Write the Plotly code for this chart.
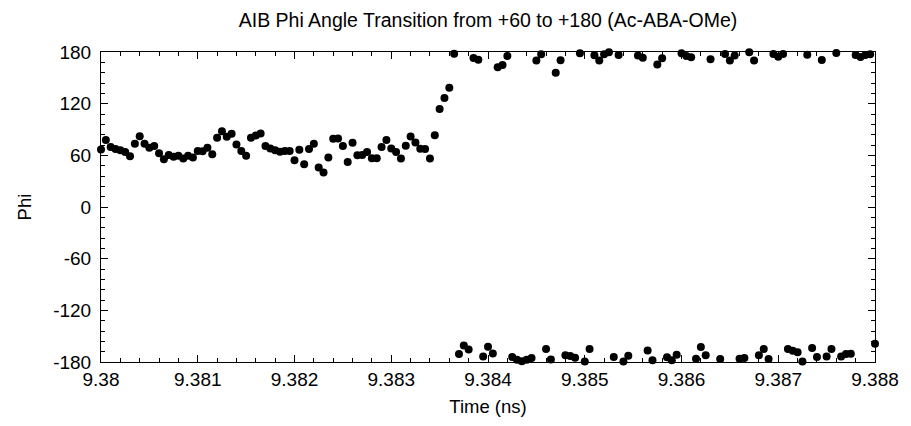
import plotly.graph_objects as go

# Time (ns) of each sample
time_ns = [
    9.38000, 9.38005, 9.38010, 9.38015, 9.38020, 9.38025, 9.38030, 9.38035, 9.38040, 9.38045,
    9.38050, 9.38055, 9.38060, 9.38065, 9.38070, 9.38075, 9.38080, 9.38085, 9.38090, 9.38095,
    9.38100, 9.38105, 9.38110, 9.38115, 9.38120, 9.38125, 9.38130, 9.38135, 9.38140, 9.38145,
    9.38150, 9.38155, 9.38160, 9.38165, 9.38170, 9.38175, 9.38180, 9.38185, 9.38190, 9.38195,
    9.38200, 9.38205, 9.38210, 9.38215, 9.38220, 9.38225, 9.38230, 9.38235, 9.38240, 9.38245,
    9.38250, 9.38255, 9.38260, 9.38265, 9.38270, 9.38275, 9.38280, 9.38285, 9.38290, 9.38295,
    9.38300, 9.38305, 9.38310, 9.38315, 9.38320, 9.38325, 9.38330, 9.38335, 9.38340, 9.38345,
    9.38350, 9.38355, 9.38360, 9.38365, 9.38370, 9.38375, 9.38380, 9.38385, 9.38390, 9.38395,
    9.38400, 9.38405, 9.38410, 9.38415, 9.38420, 9.38425, 9.38430, 9.38435, 9.38440, 9.38445,
    9.38450, 9.38455, 9.38460, 9.38465, 9.38470, 9.38475, 9.38480, 9.38485, 9.38490, 9.38495,
    9.38500, 9.38505, 9.38510, 9.38515, 9.38520, 9.38525, 9.38530, 9.38535, 9.38540, 9.38545,
    9.38555, 9.38560, 9.38565, 9.38570, 9.38575, 9.38580, 9.38585, 9.38590, 9.38595,
    9.38600, 9.38605, 9.38610, 9.38615, 9.38620, 9.38625, 9.38630, 9.38640, 9.38645,
    9.38650, 9.38655, 9.38660, 9.38665, 9.38670, 9.38675, 9.38680, 9.38685, 9.38690, 9.38695,
    9.38700, 9.38705, 9.38710, 9.38715, 9.38720, 9.38725, 9.38730, 9.38735, 9.38740, 9.38745,
    9.38750, 9.38755, 9.38760, 9.38765, 9.38770, 9.38775, 9.38780, 9.38785, 9.38790, 9.38795,
    9.38800,
]

# Phi dihedral angle (degrees)
phi_deg = [
    66.9, 77.7, 69.6, 67.3, 65.8, 63.8, 58.8, 73.5, 82.3, 73.5,
    68.9, 70.8, 62.3, 55.4, 60.3, 58.5, 59.6, 56.2, 59.6, 57.4,
    65.0, 64.6, 68.9, 61.2, 80.4, 88.0, 81.6, 85.0, 72.7, 65.0,
    59.6, 80.4, 83.1, 85.4, 70.8, 68.0, 65.8, 64.3, 65.0, 65.0,
    54.2, 66.6, 49.6, 67.3, 73.5, 45.8, 40.0, 57.4, 79.2, 79.6,
    70.8, 52.3, 74.6, 60.0, 60.4, 63.8, 56.5, 56.5, 69.6, 77.7,
    68.0, 63.8, 56.2, 71.2, 81.9, 75.0, 67.7, 67.3, 56.2, 83.4,
    113.9, 126.6, 138.5, 178.0, -170.8, -160.8, -165.5, 173.0, 171.0, -173.7,
    -162.3, -170.0, 162.3, 165.0, 175.4, -174.2, -177.3, -179.0, -177.3, -175.4,
    170.0, 177.3, -165.0, -177.0, 155.8, 170.4, -172.3, -173.1, -175.1, 178.5,
    -179.5, -165.0, 176.2, 170.0, 177.3, 179.6, -174.2, 176.5, -179.5, -172.7,
    175.8, 173.4, -166.5, -178.0, 165.4, 172.7, -174.6, -178.0, -171.5,
    178.5, 175.4, 173.9, -176.2, -162.7, -172.3, 171.5, -176.5, 177.7,
    170.0, 175.8, -176.2, -175.4, 179.6, 170.0, -172.3, -165.0, -176.5, 177.7,
    174.6, 177.7, -165.0, -166.9, -168.8, -179.5, 176.9, -163.8, -174.2, 170.8,
    -173.5, -165.0, 178.8, -173.5, -170.8, -170.4, 176.5, 174.2, 176.5, 177.3,
    -158.9,
]

x_ticks = [9.38, 9.381, 9.382, 9.383, 9.384, 9.385, 9.386, 9.387, 9.388]
x_tick_labels = ["9.38", "9.381", "9.382", "9.383", "9.384", "9.385", "9.386", "9.387", "9.388"]
y_ticks = [-180, -120, -60, 0, 60, 120, 180]
y_tick_labels = ["-180", "-120", "-60", "0", "60", "120", "180"]

FONT = "Liberation Sans, Arial, sans-serif"

fig = go.Figure()
fig.add_trace(go.Scatter(
    x=time_ns, y=phi_deg, mode="markers",
    marker=dict(color="black", size=8, line=dict(width=0)),
    cliponaxis=False, showlegend=False,
))

fig.update_layout(
    width=911, height=426,
    margin=dict(l=101, r=30, t=52, b=62),
    paper_bgcolor="white", plot_bgcolor="white",
    font=dict(family=FONT, size=18, color="black"),
    title=dict(text="AIB Phi Angle Transition from +60 to +180 (Ac-ABA-OMe)",
               x=0.5, xanchor="center", xref="paper", y=0.952, yanchor="middle",
               font=dict(size=19.5, family=FONT, color="black")),
)
fig.update_xaxes(
    range=[9.38, 9.388], tickvals=x_ticks, ticktext=x_tick_labels,
    showgrid=False, zeroline=False,
    showline=True, linecolor="black", linewidth=1, mirror="allticks",
    ticks="inside", ticklen=7, tickwidth=1, tickcolor="black",
    minor=dict(dtick=0.0002, ticks="inside", ticklen=4, tickcolor="black", showgrid=False),
    title=dict(text="Time (ns)", font=dict(size=18.5, family=FONT), standoff=11),
    tickfont=dict(size=19, family=FONT),
)
fig.update_yaxes(
    range=[-180, 180], tickvals=y_ticks, ticktext=y_tick_labels,
    showgrid=False, zeroline=False,
    showline=True, linecolor="black", linewidth=1, mirror="allticks",
    ticks="inside", ticklen=7, tickwidth=1, tickcolor="black",
    minor=dict(dtick=12, ticks="inside", ticklen=4, tickcolor="black", showgrid=False),
    ticklabelstandoff=5,
    title=dict(text="Phi", font=dict(size=18.5, family=FONT), standoff=16),
    tickfont=dict(size=19, family=FONT),
)

fig.write_html("out.html")
